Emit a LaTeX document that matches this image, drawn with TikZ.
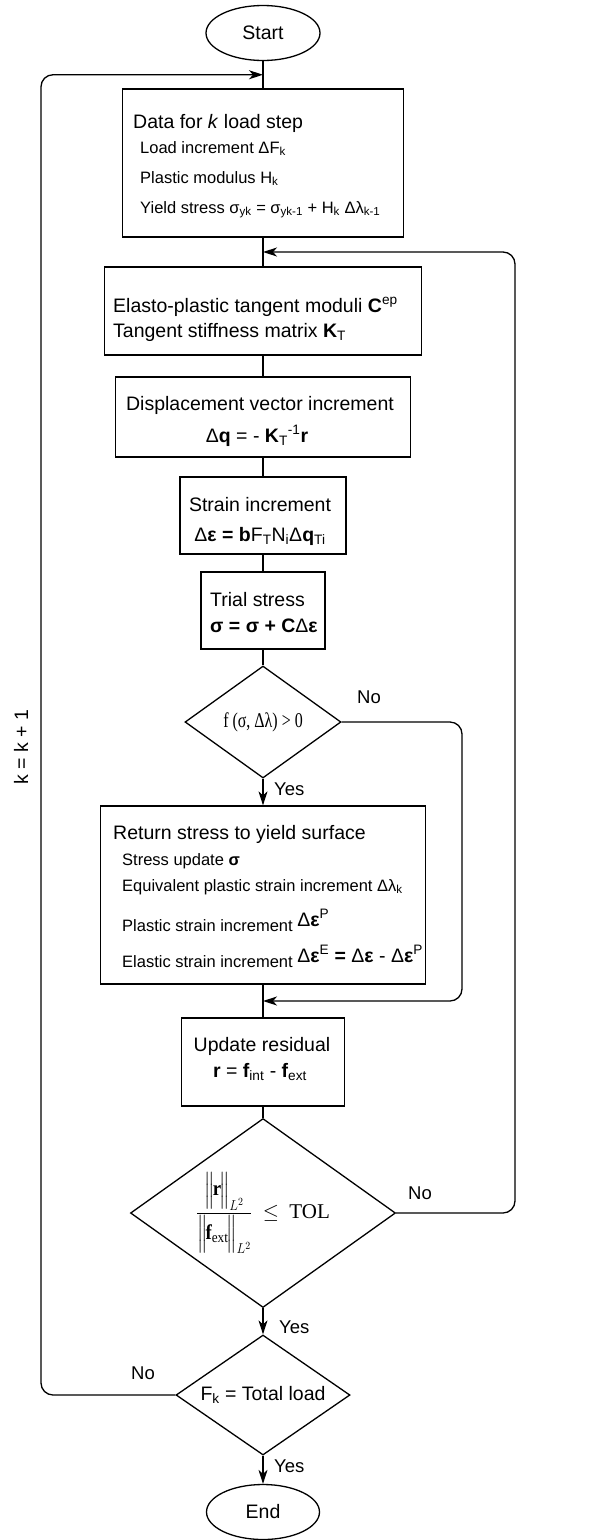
\documentclass[tikz,border=0pt]{standalone}
\usepackage{amsmath}
\usepackage{graphicx}
\usepackage{fontspec}
\setmainfont{Liberation Sans}
\newfontfamily\serifl{Liberation Serif}
\usetikzlibrary{shapes.geometric}
\usetikzlibrary{arrows.meta}
\usetikzlibrary{calc}
\newcommand{\bigsz}{\fontsize{19.5}{23}\selectfont}
\tikzset{
    box/.style={draw, line width=1.3pt, inner sep=0pt},
    term/.style={draw, ellipse, line width=1.3pt, inner sep=0pt, font=\bigsz},
    decision/.style={draw, diamond, shape aspect=1.4, line width=1.3pt, inner sep=0pt},
    ln/.style={line width=1.3pt},
    arr/.style={line width=1.3pt, -{Stealth[length=14pt,width=9pt,inset=4pt]}},
    big/.style={font=\bigsz, inner sep=0pt},
    small/.style={font=\fontsize{16.5}{20}\selectfont, inner sep=0pt},
    lbl/.style={font=\fontsize{18.5}{22}\selectfont, inner sep=0pt, anchor=base west}
}
\begin{document}
\begin{tikzpicture}[x=1pt,y=-1pt]
\useasboundingbox (0,0) rectangle (596,1540);
% shapes
\node (start) [term, minimum width=114pt, minimum height=55pt] at (263,33) {Start};
\node (data) [box, minimum width=281pt, minimum height=148pt] at (263,163) {};
\node (moduli) [box, minimum width=317pt, minimum height=88pt] at (263,311) {};
\node (disp) [box, minimum width=295pt, minimum height=80pt] at (263,417) {};
\node (strain) [box, minimum width=166pt, minimum height=77pt] at (263,515.5) {};
\node (trial) [box, minimum width=124pt, minimum height=77pt] at (263,610.5) {};
\node (yield) [decision, minimum width=156pt, minimum height=112pt, font=\serifl\fontsize{21}{25}\selectfont] at (263,722)
    {\scalebox{0.76}[1]{f (σ, Δλ) > 0}};
\node (ret) [box, minimum width=325pt, minimum height=178pt] at (263,895) {};
\node (resid) [box, minimum width=163pt, minimum height=88pt] at (263,1062) {};
\node (tol) [decision, minimum width=265pt, minimum height=189pt, font=\serifl\fontsize{21}{21}\selectfont] at (263,1213)
    {\scalebox{0.9}[1]{$\dfrac{\Bigl\|\mkern-2mu\text{\bfseries r}\mkern-2mu\Bigr\|_{L^2}}{\Bigl\|\mkern-2mu\text{\bfseries f}_{\text{ext}}\mkern-2mu\Bigr\|_{L^2}}$}\ \ $\leq$\ \ TOL};
\node (total) [decision, minimum width=174pt, minimum height=120pt, font=\bigsz] at (263,1395) {F\textsubscript{k} = Total load};
\node (stop) [term, minimum width=113pt, minimum height=55pt] at (263,1512) {End};

% texts, left aligned
\foreach \x/\y/\nm/\txt in {
    133/128/datat/{Data for \textit{k} load step},
    113/312/modt1/{Elasto-plastic tangent moduli \textbf{C}\textsuperscript{ep}},
    113/337/modt2/{Tangent stiffness matrix \textbf{K}\textsubscript{T}},
    210/606/trialt1/{Trial stress},
    210/632/trialt2/{\textbf{σ = σ + C}Δ\textbf{ε}},
    113/839/rett/{Return stress to yield surface}}{
    \node (\nm) [big, anchor=base west] at (\x,\y) {\txt};
}
\foreach \x/\y/\nm/\txt in {
    140/153/datat1/{Load increment ΔF\textsubscript{k}},
    140/183/datat2/{Plastic modulus H\textsubscript{k}},
    140/213/datat3/{Yield stress σ\textsubscript{yk} = σ\textsubscript{yk-1} + H\textsubscript{k} Δλ\textsubscript{k-1}},
    122/865/rett1/{Stress update \textbf{σ}},
    122/891/rett2/{Equivalent plastic strain increment Δλ\textsubscript{k}},
    122/931/rett3/{Plastic strain increment \raisebox{5pt}{\bigsz Δ\textbf{ε}\textsuperscript{P}}},
    122/967/rett4/{Elastic strain increment \raisebox{5pt}{\bigsz Δ\textbf{ε}\textsuperscript{E} \textbf{=} Δ\textbf{ε} - Δ\textbf{ε}\textsuperscript{P}}}}{
    \node (\nm) [small, anchor=base west] at (\x,\y) {\txt};
}
% texts, centred
\foreach \x/\y/\nm/\txt in {
    260/410/dispt1/{Displacement vector increment},
    257/442/dispt2/{Δ\textbf{q} = - \textbf{K}\textsubscript{T}\textsuperscript{-1}\textbf{r}},
    260/511/strt1/{Strain increment},
    260/541/strt2/{Δ\textbf{ε = b}F\textsubscript{T}N\textsubscript{i}Δ\textbf{q}\textsubscript{Ti}},
    262/1051/rest1/{Update residual},
    260/1077/rest2/{\textbf{r} = \textbf{f}\textsubscript{int} - \textbf{f}\textsubscript{ext}}}{
    \node (\nm) [big, anchor=base] at (\x,\y) {\txt};
}
\node (kinc) [big, rotate=90] at (21,747) {k = k + 1};

% yes / no
\node (no1) [lbl] at (357,703) {No};
\node (yes1) [lbl] at (274,795) {Yes};
\node (no2) [lbl] at (408,1199) {No};
\node (yes2) [lbl] at (279,1333) {Yes};
\node (no3) [lbl] at (131,1379) {No};
\node (yes3) [lbl] at (274,1472) {Yes};

% main line
\draw[ln] (start.south) -- (data.north);
\draw[ln] (data.south) -- (moduli.north);
\draw[ln] (moduli.south) -- (disp.north);
\draw[ln] (disp.south) -- (strain.north);
\draw[ln] (strain.south) -- (trial.north);
\draw[ln] (trial.south) -- (yield.north);
\draw[arr] (yield.south) -- (ret.north);
\draw[ln] (ret.south) -- (resid.north);
\draw[ln] (resid.south) -- (tol.north);
\draw[arr] (tol.south) -- (total.north);
\draw[arr] (total.south) -- (stop.north);

% loops
\coordinate (m1) at ($(start.south)!.5!(data.north)$);
\coordinate (m2) at ($(data.south)!.5!(moduli.north)$);
\coordinate (m3) at ($(ret.south)!.5!(resid.north)$);
\coordinate (lrail) at (41,0);
\coordinate (mrail) at (462,0);
\coordinate (rrail) at (515,0);
\draw[arr, rounded corners=12pt] (total.west) -| (lrail |- m1) -- (m1);
\draw[arr, rounded corners=12pt] (yield.east) -| (mrail |- m3) -- (m3);
\draw[arr, rounded corners=12pt] (tol.east) -| (rrail |- m2) -- (m2);
\end{tikzpicture}
\end{document}
